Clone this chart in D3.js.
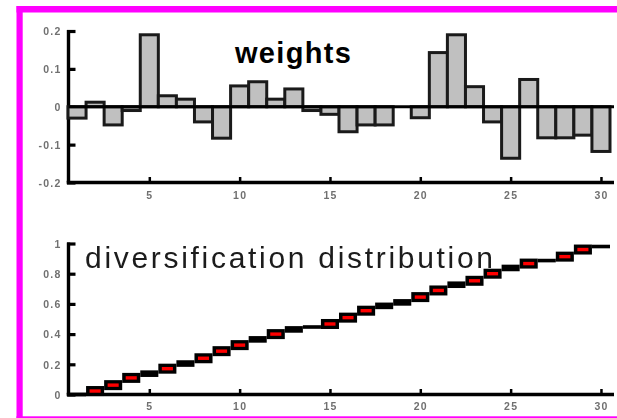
<!DOCTYPE html>
<html><head><meta charset="utf-8">
<script src="https://cdn.jsdelivr.net/npm/d3@7"></script>
<style>html,body{margin:0;padding:0;background:#fff;}svg{display:block;}</style>
</head><body>
<script>
// ---- data ----
const positions = d3.range(1, 31);
const weights = [-0.03, 0.012, -0.048, -0.01, 0.19, 0.029, 0.02, -0.04, -0.083, 0.055,
                 0.066, 0.02, 0.047, -0.01, -0.02, -0.066, -0.048, -0.048, 0, -0.029,
                 0.143, 0.19, 0.053, -0.04, -0.136, 0.072, -0.082, -0.082, -0.075, -0.118];
const cumulative = [0, 0.023, 0.062, 0.11, 0.138, 0.171, 0.205, 0.24, 0.287, 0.327,
                    0.365, 0.4, 0.431, 0.447, 0.467, 0.509, 0.555, 0.587, 0.61, 0.645,
                    0.689, 0.727, 0.753, 0.8, 0.838, 0.867, 0.887, 0.913, 0.96, 0.98];
const markerKind = ["t","r","r","r","b","r","b","r","r","r",
                    "b","r","b","t","r","r","r","b","b","r",
                    "r","b","r","r","b","r","t","r","r","t"];
const xTicks = [5, 10, 15, 20, 25, 30];
const wTicks = [-0.2, -0.1, 0, 0.1, 0.2];
const wTickLabels = ["-0.2", "-0.1", "0", "0.1", "0.2"];
const dTicks = [0, 0.2, 0.4, 0.6, 0.8, 1];
const dTickLabels = ["0", "0.2", "0.4", "0.6", "0.8", "1"];
const titles = ["weights", "diversification distribution"];

// ---- layout ----
const W = 617, H = 418;
const svg = d3.select("body").append("svg").attr("width", W).attr("height", H);
const defs = svg.append("defs");
defs.append("filter").attr("id", "soft").attr("x", "-20%").attr("y", "-20%").attr("width", "140%").attr("height", "140%")
  .append("feGaussianBlur").attr("stdDeviation", 0.55);
defs.append("filter").attr("id", "soft2").attr("x", "-5%").attr("y", "-20%").attr("width", "110%").attr("height", "140%")
  .append("feGaussianBlur").attr("stdDeviation", 0.35);

// magenta frame
svg.append("rect").attr("x", 16.5).attr("y", 6).attr("width", W - 16.5).attr("height", 6.5).attr("fill", "#ff00ff");
svg.append("rect").attr("x", 16.5).attr("y", 6).attr("width", 6.2).attr("height", H - 6).attr("fill", "#ff00ff");
svg.append("rect").attr("x", 16.5).attr("y", 416.3).attr("width", W - 16.5).attr("height", 2).attr("fill", "#ff00ff");

const x = d3.scaleLinear().domain([0.5, 30.5]).range([68, 610]);
const yW = d3.scaleLinear().domain([-0.2, 0.2]).range([182.5, 31]);
const yD = d3.scaleLinear().domain([0, 1]).range([394.5, 243.5]);

const axisX0 = 68.5, axisXEnd = 614;
const labelFont = "'Liberation Sans', Arial, sans-serif";

function drawFrame(y, yTicks, yLabels, xLabelY) {
  const g = svg.append("g");
  const [y0, y1] = y.range();
  g.append("line").attr("x1", axisX0 - 1.8).attr("x2", axisXEnd)
    .attr("y1", y0).attr("y2", y0).attr("stroke", "#000").attr("stroke-width", 3.4);
  g.append("line").attr("x1", axisX0).attr("x2", axisX0)
    .attr("y1", y1 - 1).attr("y2", y0).attr("stroke", "#000").attr("stroke-width", 3.4);
  const xa = d3.axisBottom(x).tickValues(xTicks).tickSize(-4.5).tickPadding(7).tickFormat(d3.format("d"));
  const gx = g.append("g").attr("transform", `translate(0,${y0 - 1})`).call(xa);
  gx.select(".domain").remove();
  gx.selectAll(".tick line").attr("stroke", "#000").attr("stroke-width", 2.5);
  gx.selectAll(".tick text").attr("font-family", labelFont).attr("font-size", 10.5)
    .attr("font-weight", "bold").attr("fill", "#707070").attr("letter-spacing", 1.2)
    .attr("dy", "0.5em").attr("y", xLabelY - y0 + 1).attr("filter", "url(#soft)");
  const ya = d3.axisLeft(y).tickValues(yTicks).tickSize(-8.5).tickPadding(0)
    .tickFormat((d, i) => yLabels[i]);
  const gy = g.append("g").attr("transform", `translate(${axisX0 - 1.5},0)`).call(ya);
  gy.select(".domain").remove();
  gy.selectAll(".tick line").attr("stroke", "#000").attr("stroke-width", 3.2);
  gy.selectAll(".tick text").attr("font-family", labelFont).attr("font-size", 10.5)
    .attr("font-weight", "bold").attr("fill", "#707070").attr("letter-spacing", 1.2)
    .attr("x", -5.5).attr("dy", "0.36em").attr("filter", "url(#soft)");
  return g;
}

// ---- top: weights ----
drawFrame(yW, wTicks, wTickLabels, 194);
svg.append("g").selectAll("rect").data(positions).join("rect")
  .attr("x", d => x(d - 0.5))
  .attr("width", d => x(d + 0.5) - x(d - 0.5))
  .attr("y", (d, i) => Math.min(yW(0), yW(weights[i])))
  .attr("height", (d, i) => Math.abs(yW(weights[i]) - yW(0)))
  .attr("fill", "#c0c0c0").attr("stroke", "#1a1a1a").attr("stroke-width", 3);
svg.append("line").attr("x1", axisX0).attr("x2", axisXEnd)
  .attr("y1", yW(0)).attr("y2", yW(0)).attr("stroke", "#000").attr("stroke-width", 3);
svg.append("text").text(titles[0]).attr("x", 235).attr("y", 63)
  .attr("font-family", labelFont).attr("font-weight", "bold").attr("font-size", 29)
  .attr("letter-spacing", 1.3).attr("fill", "#000");

// ---- bottom: diversification distribution ----
drawFrame(yD, dTicks, dTickLabels, 405);
const thick = {r: 10, b: 6.6, t: 3.6};
const gs = svg.append("g");
gs.selectAll("rect.step").data(positions).join("rect").attr("class", "step")
  .attr("x", d => x(d - 0.5))
  .attr("width", d => x(d + 0.5) - x(d - 0.5))
  .attr("y", (d, i) => yD(cumulative[i]) - thick[markerKind[i]] / 2)
  .attr("height", (d, i) => thick[markerKind[i]])
  .attr("fill", "#000");
gs.selectAll("rect.red").data(positions.filter((d, i) => markerKind[i] === "r")).join("rect").attr("class", "red")
  .attr("x", d => x(d - 0.5) + 3.5)
  .attr("width", d => x(d + 0.5) - x(d - 0.5) - 7)
  .attr("y", d => yD(cumulative[d - 1]) - 1.7)
  .attr("height", 3.4)
  .attr("fill", "#ff0000");
svg.append("text").text(titles[1]).attr("x", 85).attr("y", 268)
  .attr("font-family", labelFont).attr("font-size", 30)
  .attr("letter-spacing", 2.7).attr("fill", "#1a1a1a").attr("filter", "url(#soft2)");
</script>
</body></html>
